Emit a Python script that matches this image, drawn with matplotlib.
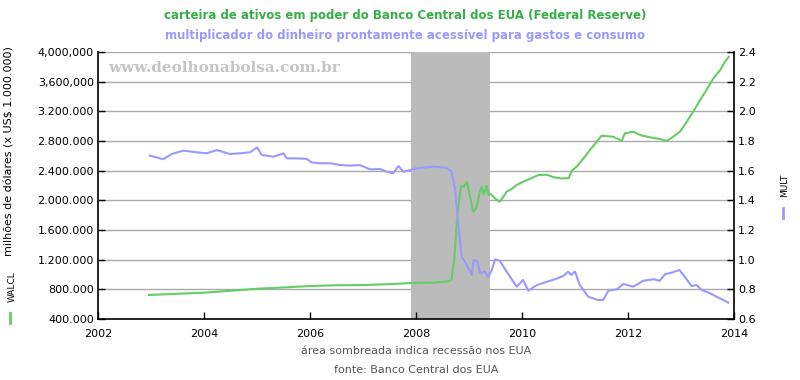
import matplotlib
matplotlib.use("Agg")
import matplotlib.pyplot as plt
import numpy as np

# ---- data ----
walcl_t = [2002.96, 2003.5, 2004.0, 2004.4, 2005.0, 2005.5, 2006.0, 2006.5, 2007.0, 2007.5,
           2008.0, 2008.3, 2008.6, 2008.67, 2008.72, 2008.78, 2008.83, 2008.86, 2008.90, 2008.96,
           2009.02, 2009.08, 2009.14, 2009.20, 2009.24, 2009.28, 2009.33, 2009.37, 2009.41, 2009.50,
           2009.58, 2009.65, 2009.71, 2009.80, 2009.90, 2010.02, 2010.15, 2010.31, 2010.47, 2010.60,
           2010.75, 2010.88, 2010.94, 2011.03, 2011.16, 2011.28, 2011.41, 2011.50, 2011.60, 2011.72,
           2011.85, 2011.88, 2011.94, 2012.10, 2012.23, 2012.42, 2012.60, 2012.73, 2012.85, 2012.98,
           2013.10, 2013.23, 2013.36, 2013.48, 2013.61, 2013.74, 2013.83, 2013.90]
walcl_v = [724000, 740000, 755000, 775000, 808000, 825000, 845000, 855000, 858000, 870000,
           889000, 890000, 905000, 926000, 1200000, 1800000, 2100000, 2197000, 2180000, 2251000,
           2050000, 1846000, 1900000, 2100000, 2183000, 2080000, 2197000, 2072000, 2085000, 2020000,
           1982000, 2050000, 2117000, 2150000, 2207000, 2251000, 2290000, 2341000, 2345000, 2310000,
           2295000, 2300000, 2400000, 2453000, 2565000, 2678000, 2790000, 2871000, 2865000, 2857000,
           2813000, 2800000, 2903000, 2925000, 2880000, 2849000, 2827000, 2800000, 2857000, 2925000,
           3050000, 3195000, 3352000, 3487000, 3644000, 3757000, 3869000, 3935000]

mult_t = [2002.98, 2003.23, 2003.39, 2003.61, 2003.86, 2004.05, 2004.24, 2004.49, 2004.68, 2004.87,
          2005.0, 2005.09, 2005.31, 2005.50, 2005.56, 2005.75, 2005.94, 2006.03, 2006.19, 2006.38,
          2006.57, 2006.75, 2006.94, 2007.13, 2007.32, 2007.45, 2007.57, 2007.67, 2007.76, 2007.89,
          2008.01, 2008.33, 2008.58, 2008.67, 2008.74, 2008.80, 2008.83, 2008.86, 2008.92, 2008.99,
          2009.05, 2009.09, 2009.16, 2009.21, 2009.30, 2009.36, 2009.43, 2009.49, 2009.58, 2009.71,
          2009.90, 2010.02, 2010.12, 2010.28, 2010.47, 2010.62, 2010.78, 2010.87, 2010.93, 2011.00,
          2011.09, 2011.25, 2011.44, 2011.53, 2011.63, 2011.79, 2011.91, 2012.10, 2012.29, 2012.48,
          2012.60, 2012.70, 2012.82, 2012.97, 2013.07, 2013.20, 2013.29, 2013.39, 2013.55, 2013.67,
          2013.77, 2013.86, 2013.89]
mult_v = [1.701, 1.677, 1.712, 1.735, 1.724, 1.717, 1.739, 1.712, 1.717, 1.724,
          1.757, 1.706, 1.694, 1.717, 1.683, 1.683, 1.679, 1.656, 1.650, 1.650,
          1.638, 1.634, 1.638, 1.609, 1.611, 1.593, 1.582, 1.631, 1.593, 1.604,
          1.616, 1.627, 1.620, 1.593, 1.470, 1.222, 1.133, 1.020, 0.987, 0.942,
          0.897, 0.998, 0.987, 0.908, 0.919, 0.881, 0.930, 1.002, 0.993, 0.919,
          0.818, 0.863, 0.791, 0.829, 0.851, 0.868, 0.890, 0.919, 0.897, 0.919,
          0.829, 0.750, 0.728, 0.728, 0.791, 0.800, 0.836, 0.818, 0.858, 0.868,
          0.858, 0.903, 0.912, 0.930, 0.885, 0.822, 0.829, 0.796, 0.773, 0.750,
          0.733, 0.717, 0.710]

recession = (2007.91, 2009.40)

left_ticks = [400000, 800000, 1200000, 1600000, 2000000, 2400000, 2800000, 3200000, 3600000, 4000000]
left_labels = ["400.000", "800.000", "1.200.000", "1.600.000", "2.000.000", "2.400.000",
               "2.800.000", "3.200.000", "3,600,000", "4,000,000"]
right_ticks = [0.6, 0.8, 1.0, 1.2, 1.4, 1.6, 1.8, 2.0, 2.2, 2.4]
right_labels = ["0.6", "0.8", "1.0", "1.2", "1.4", "1.6", "1.8", "2.0", "2.2", "2.4"]
x_ticks = [2002, 2004, 2006, 2008, 2010, 2012, 2014]

GREEN = "#66cc66"
BLUE = "#9999ff"
TITLE_GREEN = "#33b045"

plt.rcParams['font.family'] = ['DejaVu Sans']

fig = plt.figure(figsize=(8, 3.8), dpi=100)
ax = fig.add_axes([98/800, 1-319/380, (734-98)/800, (319-52)/380])
ax2 = ax.twinx()

ax.axvspan(recession[0], recession[1], color="#bbbbbb", lw=0, zorder=1)
for t in left_ticks[1:]:
    ax.axhline(t, color="#aaaaaa", lw=1.0, zorder=0.5)

ax.plot(walcl_t, walcl_v, color=GREEN, lw=1.5, zorder=3)
ax2.plot(mult_t, mult_v, color=BLUE, lw=1.5, zorder=3)

ax.set_xlim(2002, 2014)
ax.set_ylim(400000, 4000000)
ax2.set_ylim(0.6, 2.4)

ax.set_xticks(x_ticks)
ax.set_xticklabels([str(x) for x in x_ticks])
ax.set_yticks(left_ticks)
ax.set_yticklabels(left_labels)
ax2.set_yticks(right_ticks)
ax2.set_yticklabels(right_labels)

for a in (ax, ax2):
    a.tick_params(direction="in", length=5, width=1, labelsize=8, colors="black", pad=3)
    a.spines["top"].set_visible(False)
    a.set_facecolor("none")
ax.tick_params(axis="x", pad=7)
for s in ("left", "bottom"):
    ax.spines[s].set_linewidth(1.2)
ax.spines["right"].set_visible(False)
ax2.spines["left"].set_visible(False)
ax2.spines["bottom"].set_visible(False)
ax2.spines["right"].set_linewidth(1.2)

# watermark
fig.text(108/800, 1-68/380, "www.deolhonabolsa.com.br", family="DejaVu Serif",
         fontweight="bold", fontsize=11, color="#c4c4c4", va="center", ha="left")

# titles
fig.text(405/800, 1-15/380, "carteira de ativos em poder do Banco Central dos EUA (Federal Reserve)",
         ha="center", va="center", fontsize=8.5, fontweight="bold", color=TITLE_GREEN)
fig.text(405/800, 1-36/380, "multiplicador do dinheiro prontamente acessível para gastos e consumo",
         ha="center", va="center", fontsize=8.5, fontweight="bold", color=BLUE)

# axis labels
fig.text(10/800, 1-151/380, "milhões de dólares (x US$ 1.000.000)", rotation=90,
         ha="center", va="center", fontsize=8, color="black")
fig.text(12/800, 1-287/380, "WALCL", rotation=90, ha="center", va="center", fontsize=6.5, color="black")
fig.lines.append(plt.Line2D([10/800, 10/800], [1-313/380, 1-323/380], transform=fig.transFigure,
                            color=GREEN, lw=2))
fig.text(785/800, 1-185/380, "MULT", rotation=90, ha="center", va="center", fontsize=6.5, color="black")
fig.lines.append(plt.Line2D([783/800, 783/800], [1-208/380, 1-218/380], transform=fig.transFigure,
                            color=BLUE, lw=2))

fig.text(416/800, 1-351/380, "área sombreada indica recessão nos EUA", ha="center", va="center",
         fontsize=8, color="#555555")
fig.text(416/800, 1-370/380, "fonte: Banco Central dos EUA", ha="center", va="center",
         fontsize=8, color="#555555")

fig.savefig("out.png", dpi=100)
